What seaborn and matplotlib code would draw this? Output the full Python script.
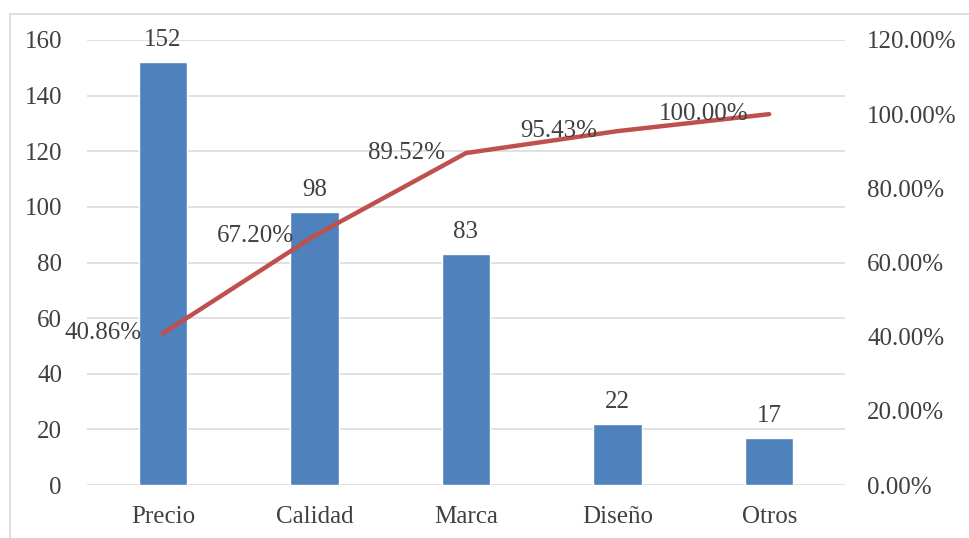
import matplotlib
matplotlib.use("Agg")
import matplotlib.pyplot as plt
import seaborn as sns
import pandas as pd
from matplotlib.patches import Rectangle

categories = ["Precio", "Calidad", "Marca", "Diseño", "Otros"]
counts = [152, 98, 83, 22, 17]
cumulative_pct = [40.86, 67.20, 89.52, 95.43, 100.00]
left_ticks = [0, 20, 40, 60, 80, 100, 120, 140, 160]
right_ticks = [0, 20, 40, 60, 80, 100, 120]

sns.set_theme(style="white")
plt.rcParams["font.family"] = ["Liberation Serif", "DejaVu Serif"]

BAR = "#4F81BD"
LINE = "#C0504D"
TXT = "#404040"
GRID = "#D9D9D9"
FS = 18

df = pd.DataFrame({"categoria": categories, "n": counts, "pct": cumulative_pct})

W, H = 969, 538
fig = plt.figure(figsize=(W / 100, H / 100), dpi=100)
ax = fig.add_axes([87 / W, 53 / H, (845 - 87) / W, (485 - 40) / H])

# outer chart frame
fig.patches.append(Rectangle((10 / W, -0.05), 1.2, (538 - 14) / H + 0.05,
                             transform=fig.transFigure, fill=False,
                             edgecolor="#D9D9D9", linewidth=1.2))

sns.barplot(data=df, x="categoria", y="n", color=BAR, width=0.32,
            saturation=1, ax=ax, zorder=2)
ax.set_ylim(0, 160)
ax.set_xlim(-0.5, 4.5)
ax.set_yticks(left_ticks)
ax.yaxis.grid(True, color=GRID, linewidth=1.1)
ax.set_axisbelow(True)
for s in ax.spines.values():
    s.set_visible(False)
ax.set_xlabel("")
ax.set_ylabel("")
ax.tick_params(axis="y", length=0, pad=18, labelsize=FS, labelcolor=TXT)
ax.tick_params(axis="x", length=0, pad=15, labelsize=FS, labelcolor=TXT)

for i, v in enumerate(counts):
    ax.annotate(str(v), (i, v), xytext=(0, 8), textcoords="offset points",
                ha="center", va="bottom", fontsize=FS, color=TXT)

ax2 = ax.twinx()
sns.lineplot(x=list(range(len(categories))), y=cumulative_pct, color=LINE,
             linewidth=3.2, ax=ax2, zorder=3)
ax2.set_ylim(0, 120)
ax2.set_xlim(-0.5, 4.5)
ax2.set_yticks(right_ticks)
ax2.set_yticklabels([f"{t:.2f}%" for t in right_ticks])
ax2.tick_params(axis="y", length=0, pad=16, labelsize=FS, labelcolor=TXT)
ax2.grid(False)
for s in ax2.spines.values():
    s.set_visible(False)

for i, p in enumerate(cumulative_pct):
    ax2.annotate(f"{p:.2f}%", (i, p), xytext=(-15, 0), textcoords="offset points",
                 ha="right", va="center", fontsize=FS, color=TXT)

fig.savefig("out.png", dpi=100)
